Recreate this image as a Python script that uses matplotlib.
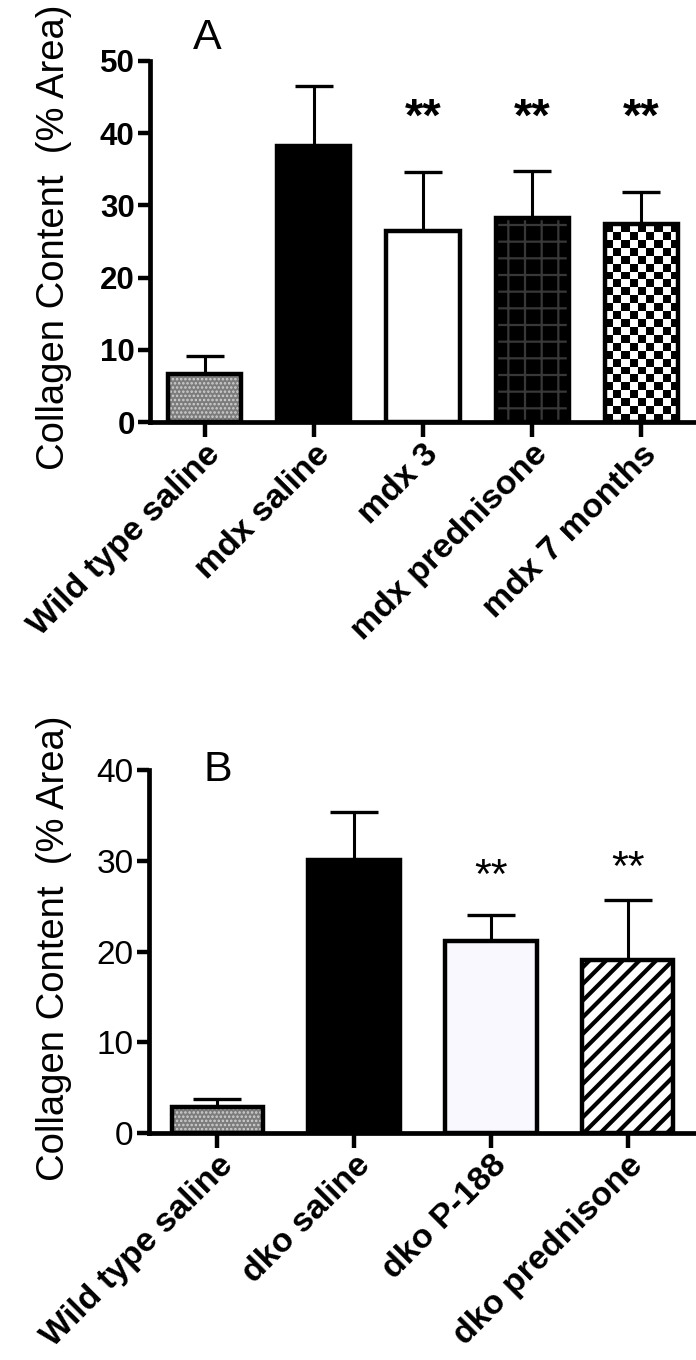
import numpy as np
import matplotlib
matplotlib.use("Agg")
import matplotlib.pyplot as plt

plt.rcParams["font.family"] = ["Liberation Sans", "DejaVu Sans"]

# --------------------------------------------------
# data
# --------------------------------------------------
groups_a = ["Wild type saline", "mdx saline", "mdx 3", "mdx prednisone", "mdx 7 months"]
means_a = [6.7, 38.2, 26.5, 28.2, 27.4]
sem_a = [2.5, 8.4, 8.1, 6.6, 4.4]
sig_a = ["", "", "**", "**", "**"]
sig_y_a = [0, 0, 42.0, 42.0, 42.0]

groups_b = ["Wild type saline", "dko saline", "dko P-188", "dko prednisone"]
means_b = [2.9, 30.1, 21.2, 19.1]
sem_b = [0.8, 5.3, 2.8, 6.6]
sig_b = ["", "", "**", "**"]
sig_y_b = [0, 0, 28.2, 29.1]

# --------------------------------------------------
# styles
# --------------------------------------------------
# (face, hatch, hatch colour, hatch linewidth)
fills_a = [
    ("#7c7c7c", "....", "#d0d0d0", 1.2),
    ("black", None, "black", 1),
    ("white", None, "white", 1),
    ("black", "+", "#383838", 1.6),
    ("white", "checker", "black", 1),
]
fills_b = [
    ("#7c7c7c", "....", "#d0d0d0", 1.2),
    ("black", None, "black", 1),
    ("#f8f8fe", None, "#f8f8fe", 1),
    ("white", "//", "black", 3.0),
]

fig = plt.figure(figsize=(6.96, 13.6), dpi=100)
W, H = 696, 1360

axA = fig.add_axes([150 / W, 1 - 422 / H, (W - 150) / W, (422 - 61) / H])
axB = fig.add_axes([149 / W, 1 - 1133 / H, (W - 149) / W, (1133 - 770) / H])


def draw_panel(ax, groups, means, sems, fills, sig, sig_y, ymax, bold, capsize, tick_fs, lab_fs, star_fs):
    x = np.arange(len(groups))
    width = 0.67
    ax.errorbar(x, means, yerr=[np.zeros(len(x)), sems], fmt="none",
                ecolor="black", elinewidth=2.2, capsize=capsize, capthick=2.4, zorder=1)
    for i, (face, hatch, hcol, hlw) in enumerate(fills):
        if hatch == "checker":
            b = ax.bar(x[i], means[i], width=width, color=face, linewidth=0, zorder=2)
            patch = b.patches[0]
            ncol, nrow = 9, int(round(means[i] / 1.1))
            board = (np.add.outer(np.arange(nrow), np.arange(ncol)) % 2).astype(float)
            im = ax.imshow(board, cmap="gray", vmin=0, vmax=1, interpolation="nearest",
                           extent=(x[i] - width / 2, x[i] + width / 2, 0, means[i]),
                           aspect="auto", zorder=2.5)
            im.set_clip_path(patch)
        elif hatch:
            with plt.rc_context({"hatch.linewidth": hlw}):
                ax.bar(x[i], means[i], width=width, color=face, edgecolor=hcol,
                       hatch=hatch, linewidth=0, zorder=2)
        else:
            ax.bar(x[i], means[i], width=width, color=face, linewidth=0, zorder=2)
    ax.bar(x, means, width=width, fill=False, edgecolor="black", linewidth=3.2, zorder=3)

    for i, s in enumerate(sig):
        if s:
            ax.text(x[i], sig_y[i], s, ha="center", va="center", fontsize=star_fs,
                    fontweight="bold" if bold else "normal")

    ax.set_xlim(-0.5, len(groups) - 0.5)
    ax.set_ylim(0, ymax)
    ax.set_yticks(np.arange(0, ymax + 1, 10))
    ax.set_xticks(x)
    ax.set_xticklabels(groups, rotation=45, ha="right", va="top",
                       rotation_mode="anchor", fontweight="bold", fontsize=lab_fs)
    for lab in ax.get_yticklabels():
        lab.set_fontsize(tick_fs)
        lab.set_fontweight("bold" if bold else "normal")
    ax.tick_params(axis="y", length=9, width=3.2, pad=2)
    ax.tick_params(axis="x", length=11, width=3.2, pad=1)
    for side in ["top", "right"]:
        ax.spines[side].set_visible(False)
    for side in ["left", "bottom"]:
        ax.spines[side].set_linewidth(3.4)
    ax.set_ylabel("Collagen Content  (% Area)", fontsize=27.5)


draw_panel(axA, groups_a, means_a, sem_a, fills_a, sig_a, sig_y_a, 50, True, 13.5, 22.5, 24.5, 34)
draw_panel(axB, groups_b, means_b, sem_b, fills_b, sig_b, sig_y_b, 40, False, 17, 24, 24.5, 31)

axA.yaxis.set_label_coords(-0.142, 0.512)
axB.yaxis.set_label_coords(-0.14, 0.51)

axA.text(0.104, 1.064, "A", transform=axA.transAxes, ha="center", va="center", fontsize=31)
axB.text(0.126, 1.0, "B", transform=axB.transAxes, ha="center", va="center", fontsize=31)

fig.savefig("out.png", dpi=100)
